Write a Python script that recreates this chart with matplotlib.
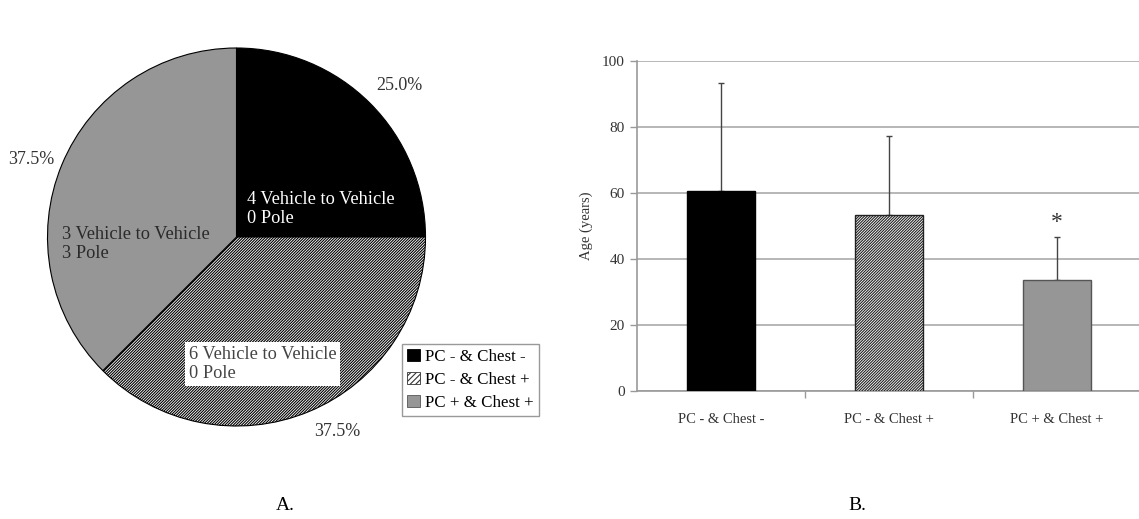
import matplotlib
matplotlib.use("Agg")
import matplotlib.pyplot as plt
from matplotlib.patches import Patch

plt.rcParams['font.family'] = ['Liberation Serif', 'DejaVu Serif']
plt.rcParams['hatch.linewidth'] = 0.8
plt.rcParams['hatch.color'] = '#222222'

# Panel A: crash groups
groups = ["PC - & Chest -", "PC - & Chest +", "PC + & Chest +"]
shares = [25.0, 37.5, 37.5]
share_labels = ["25.0%", "37.5%", "37.5%"]
crash_notes = ["4 Vehicle to Vehicle\n0 Pole",
               "6 Vehicle to Vehicle\n0 Pole",
               "3 Vehicle to Vehicle\n3 Pole"]

# Panel B: age by group
age_mean = [60.7, 53.4, 33.6]
age_sd = [32.5, 23.9, 13.0]
y_ticks = [0, 20, 40, 60, 80, 100]

fills = ["black", "white", "#969696"]
hatches = [None, "////////////", None]
edges = ["black", "#222222", "#555555"]

W, H = 1139, 519
fig = plt.figure(figsize=(W / 100, H / 100), dpi=100)

# ---- Pie (panel A) ----
cx, cy, r = 236.5, 237, 189
axp = fig.add_axes([(cx - r) / W, (H - cy - r) / H, 2 * r / W, 2 * r / H])
wedges, _ = axp.pie(shares, startangle=90, counterclock=False, colors=fills,
                    wedgeprops=dict(edgecolor="black", linewidth=0.8))
for w, h in zip(wedges, hatches):
    if h:
        w.set_hatch(h)
axp.set_xlim(-1, 1)
axp.set_ylim(-1, 1)
axp.set_aspect("equal")


def px(x, y):
    return (x - cx) / r, (cy - y) / r


for (x, y), lab in zip([(399, 86), (337, 431), (31, 160)], share_labels):
    axp.text(*px(x, y), lab, ha="center", va="center", fontsize=13, color="#333333")

axp.text(*px(247, 209), crash_notes[0], ha="left", va="center", fontsize=13.2,
         color="white", linespacing=1.2)
axp.text(*px(189, 364), crash_notes[1], ha="left", va="center", fontsize=13.2,
         color="#444444", linespacing=1.2,
         bbox=dict(boxstyle="square,pad=0.2", facecolor="white", edgecolor="none"))
axp.text(*px(62, 244), crash_notes[2], ha="left", va="center", fontsize=13.2,
         color="#2a2a2a", linespacing=1.2)

handles = [Patch(facecolor=f, edgecolor=e, hatch=h, linewidth=0.6)
           for f, e, h in zip(fills, ["black", "#333333", "#555555"],
                              [None, "//////", None])]
fig.legend(handles, groups, loc="upper left",
           bbox_to_anchor=(402 / W, 1 - 344 / H), fontsize=12.2,
           handlelength=0.75, handleheight=0.75, handletextpad=0.3,
           labelspacing=0.4, borderpad=0.3, borderaxespad=0, fancybox=False,
           framealpha=1, edgecolor="#999999")

# ---- Bars (panel B) ----
x0, y0, y100, step = 637, 391, 61, 168
axb = fig.add_axes([x0 / W, (H - y0) / H, (W - x0) / W, (y0 - y100) / H])
pos = range(len(groups))
bars = axb.bar(pos, age_mean, width=0.405, color=fills, edgecolor=edges,
               linewidth=1.0, zorder=3)
for b, h in zip(bars, hatches):
    if h:
        b.set_hatch(h)
axb.errorbar(pos, age_mean, yerr=[[0] * 3, age_sd], fmt="none", ecolor="#444444",
             elinewidth=1.0, capsize=2.5, capthick=1.0, zorder=2)
axb.text(2, 49.5, "*", ha="center", va="baseline", fontsize=17, color="#333333")

axb.set_xlim(-0.5, -0.5 + (W - x0) / step)
axb.set_ylim(0, 100)
axb.set_yticks(y_ticks)
axb.yaxis.grid(True, color="#aaaaaa", linewidth=1.2, zorder=0)
axb.set_axisbelow(True)
axb.set_xticks(list(pos))
axb.set_xticklabels(groups, fontsize=10.5, color="#333333")
axb.tick_params(axis="x", which="major", length=0, pad=16)
axb.set_xticks([0.5, 1.5], minor=True)
axb.tick_params(axis="x", which="minor", length=5, color="#999999", width=1)
axb.tick_params(axis="y", length=5, color="#999999", width=1, labelsize=11,
                labelcolor="#333333", pad=4)
for s in ["top", "right"]:
    axb.spines[s].set_visible(False)
for s in ["left", "bottom"]:
    axb.spines[s].set_color("#999999")
    axb.spines[s].set_linewidth(1.2)
axb.set_ylabel("Age (years)", fontsize=10.5, color="#333333", labelpad=6)

fig.text(285 / W, 1 - 506 / H, "A.", ha="center", va="center", fontsize=14)
fig.text(857 / W, 1 - 506 / H, "B.", ha="center", va="center", fontsize=14)

fig.savefig("out.png", dpi=100)
